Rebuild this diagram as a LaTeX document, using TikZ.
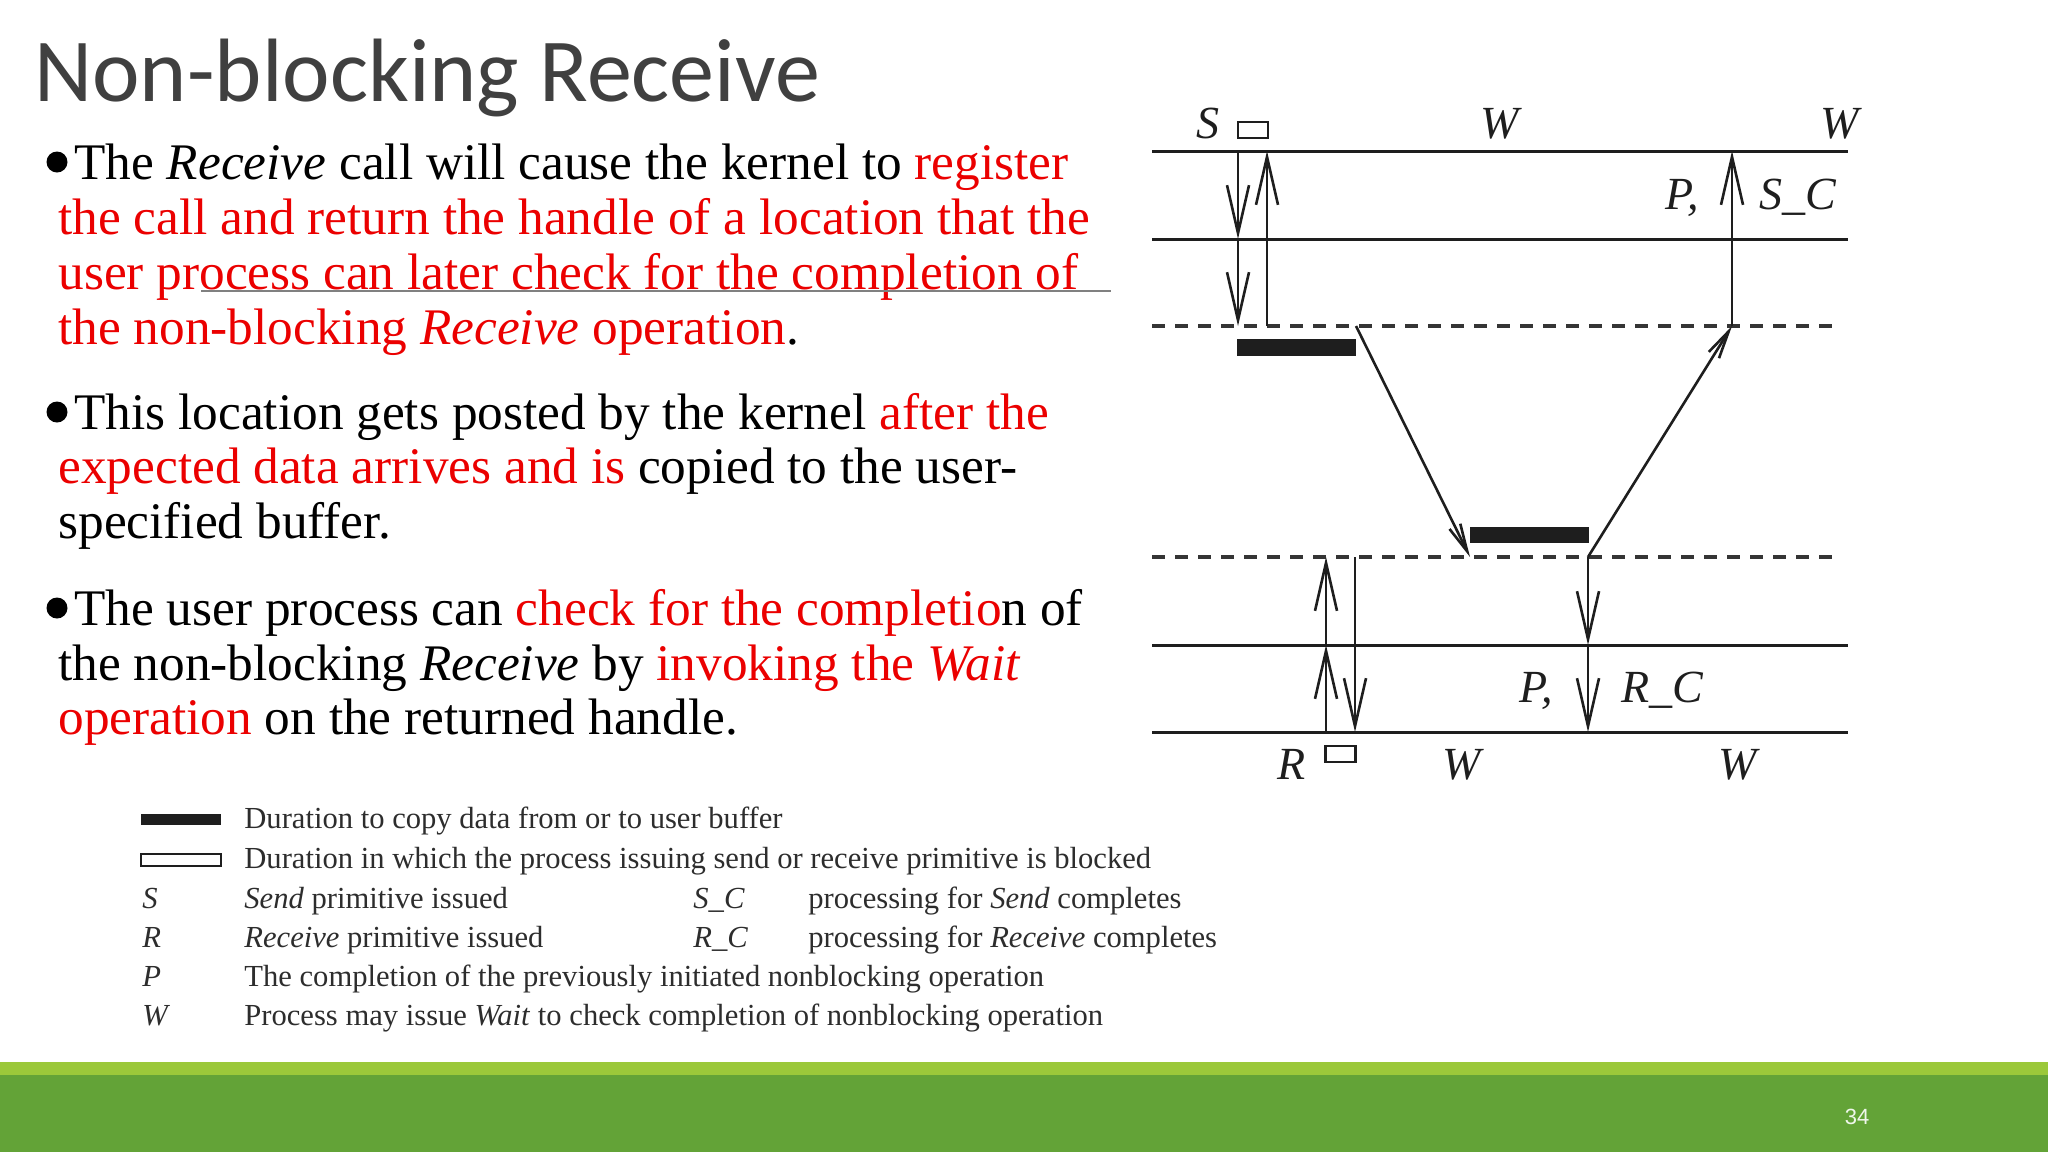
\documentclass[tikz,border=0pt]{standalone}
\usepackage{fontspec}
\setmainfont{Liberation Serif}
\newfontfamily\titlefont{Carlito}
\newfontfamily\numfont{Liberation Sans}
\usetikzlibrary{arrows.meta}
\definecolor{ink}{RGB}{30,30,30}
\definecolor{hot}{RGB}{235,0,0}
\definecolor{titlegray}{RGB}{64,64,64}
\definecolor{leggray}{RGB}{45,45,45}
\definecolor{barlight}{RGB}{155,200,58}
\definecolor{bardark}{RGB}{99,163,55}
\begin{document}
\begin{tikzpicture}[x=0.5pt, y=-0.5pt,
    hline/.style={draw=ink, line width=1.5pt},
    dline/.style={draw=ink!90, line width=1.6pt, dash pattern=on 6.5pt off 5pt},
    varr/.style={draw=ink, line width=1.3pt, -{Straight Barb[length=24pt,width=11pt]}},
    darr/.style={draw=ink, line width=1.3pt, -{Straight Barb[length=14pt,width=6pt]}},
    lbl/.style={font=\fontsize{23}{23}\selectfont\itshape, anchor=base, inner sep=0, text=ink},
    txt/.style={font=\fontsize{25.65}{27.5}\selectfont, anchor=base west, inner sep=0},
    leg/.style={font=\fontsize{15.3}{16}\selectfont, anchor=base west, inner sep=0, text=leggray},
    dot/.style={circle, fill=black, inner sep=0, minimum size=10.5pt},
    buf/.style={fill=ink, inner sep=0, minimum width=59.5pt, minimum height=8.5pt},
    openbox/.style={draw=ink, fill=white, line width=1.2pt, inner sep=0, minimum width=15pt, minimum height=8pt}]
  \useasboundingbox (0,0) rectangle (2048,1152);
  \fill[white] (0,0) rectangle (2048,1152);
  \fill[barlight] (0,1062) rectangle (2048,1075);
  \fill[bardark] (0,1075) rectangle (2048,1152);
  \node[font=\numfont\fontsize{11}{11}\selectfont, text=white!90!bardark] (pnum) at (1857,1117) {34};

  \node[anchor=base west, inner sep=0, font=\titlefont\fontsize{45}{45}\selectfont, text=titlegray] (title) at (34,101) {Non-blocking Receive};

  \node[dot] (b1) at (57,162) {};
  \node[txt] (b1l1) at (74,179) {The \textit{Receive} call will cause the kernel to \textcolor{hot}{register}};
  \node[txt] (b1l2) at (58,234) {\textcolor{hot}{the call and return the handle of a location that the}};
  \node[txt] (b1l3) at (58,289) {\textcolor{hot}{user process can later check for the completion of}};
  \node[txt] (b1l4) at (58,344) {\textcolor{hot}{the non-blocking \textit{Receive} operation}.};
  \draw[gray, line width=1pt] (201,291) -- (1111,291);
  \node[dot] (b2) at (57,412) {};
  \node[txt] (b2l1) at (74,429) {This location gets posted by the kernel \textcolor{hot}{after the}};
  \node[txt] (b2l2) at (58,483) {\textcolor{hot}{expected data arrives and is} copied to the user-};
  \node[txt] (b2l3) at (58,538) {specified buffer.};
  \node[dot] (b3) at (57,608) {};
  \node[txt] (b3l1) at (74,625) {The user process can \textcolor{hot}{check for the completio}n of};
  \node[txt] (b3l2) at (58,680) {the non-blocking \textit{Receive} by \textcolor{hot}{invoking the \textit{Wait}}};
  \node[txt] (b3l3) at (58,734) {\textcolor{hot}{operation} on the returned handle.};

  \foreach \yy in {151,239,645,732}
    \draw[hline] (1152,\yy) -- (1848,\yy);
  \foreach \yy in {326,557}
    \draw[dline] (1152,\yy) -- (1838,\yy);

  \node[openbox] (sbox) at (1253,130) {};
  \node[openbox] (rbox) at (1340.5,754) {};
  \node[buf] (buf1) at (1296.5,347.5) {};
  \node[buf, minimum height=8pt] (buf2) at (1529.5,535) {};

  \coordinate (sA) at (1238,151);
  \coordinate (sB) at (1238,239);
  \coordinate (sC) at (1238,326);
  \coordinate (uA) at (1267,326);
  \coordinate (uB) at (1267,151);
  \coordinate (scA) at (1732,326);
  \coordinate (scB) at (1732,151);
  \coordinate (dA) at (1356,326);
  \coordinate (dB) at (1470,557);
  \coordinate (eA) at (1588,557);
  \coordinate (rA) at (1326,732);
  \coordinate (rB) at (1326,645);
  \coordinate (rC) at (1326,557);
  \coordinate (wA) at (1355,557);
  \coordinate (wB) at (1355,732);
  \coordinate (rcB) at (1588,645);
  \coordinate (rcC) at (1588,732);

  \draw[varr] (sA) -- (sB);
  \draw[varr] (sB) -- (sC);
  \draw[varr] (uA) -- (uB);
  \draw[varr] (scA) -- (scB);
  \draw[darr] (dA) -- (dB);
  \draw[darr] (eA) -- (scA);
  \draw[varr] (rA) -- (rB);
  \draw[varr] (rB) -- (rC);
  \draw[varr] (wA) -- (wB);
  \draw[varr] (eA) -- (rcB);
  \draw[varr] (rcB) -- (rcC);

  \node[lbl] (lS) at (1208,138) {S};
  \node[lbl] (lW1) at (1500,138) {W};
  \node[lbl] (lW2) at (1840,138) {W};
  \node[lbl] (lP1) at (1682,209) {P,};
  \node[lbl] (lSC) at (1798,209) {S\_C};
  \node[lbl] (lP2) at (1536,702) {P,};
  \node[lbl] (lRC) at (1662,702) {R\_C};
  \node[lbl] (lR) at (1292,779) {R};
  \node[lbl] (lW3) at (1462,779) {W};
  \node[lbl] (lW4) at (1738,779) {W};

  \node[buf, minimum width=40pt, minimum height=5.5pt] (kbuf) at (181,819.5) {};
  \node[openbox, line width=1.2pt, minimum width=40pt, minimum height=6pt] (kblock) at (181,860) {};
  \node[leg] (t1) at (244,828) {Duration to copy data from or to user buffer};
  \node[leg] (t2) at (244,868) {Duration in which the process issuing send or receive primitive is blocked};
  \node[leg] (kS) at (142,908) {\textit{S}};
  \node[leg] (t3) at (244,908) {\textit{Send} primitive issued};
  \node[leg] (kSC) at (693,908) {\textit{S\_C}};
  \node[leg] (t4) at (808,908) {processing for \textit{Send} completes};
  \node[leg] (kR) at (142,947) {\textit{R}};
  \node[leg] (t5) at (244,947) {\textit{Receive} primitive issued};
  \node[leg] (kRC) at (693,947) {\textit{R\_C}};
  \node[leg] (t6) at (808,947) {processing for \textit{Receive} completes};
  \node[leg] (kP) at (142,986) {\textit{P}};
  \node[leg] (t7) at (244,986) {The completion of the previously initiated nonblocking operation};
  \node[leg] (kW) at (142,1025) {\textit{W}};
  \node[leg] (t8) at (244,1025) {Process may issue \textit{Wait} to check completion of nonblocking operation};
\end{tikzpicture}
\end{document}
